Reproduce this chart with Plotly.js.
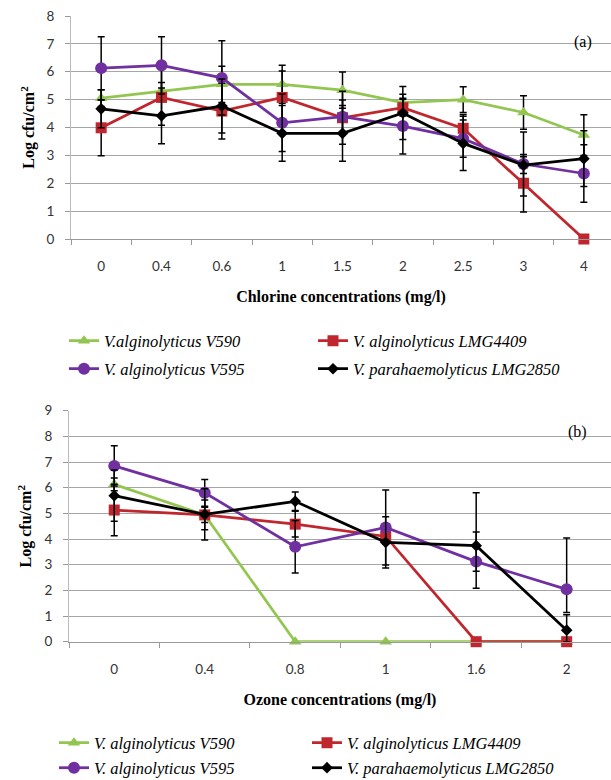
<!DOCTYPE html>
<html>
<head>
<meta charset="utf-8">
<script src="https://cdn.plot.ly/plotly-3.0.1.min.js"></script>
<style>html,body{margin:0;padding:0;background:#fff;}#chart{width:611px;height:780px;}</style>
</head>
<body>
<div id="chart"></div>
<script>
// ---- Chart (a): chlorine ----
const chlorineCats = ["0", "0.4", "0.6", "1", "1.5", "2", "2.5", "3", "4"];
const a_V590    = [5.05, 5.31, 5.55, 5.55, 5.34, 4.89, 5.00, 4.54, 3.73];
const a_LMG4409 = [3.99, 5.08, 4.59, 5.08, 4.35, 4.71, 3.97, 2.00, 0.00];
const a_V595    = [6.13, 6.23, 5.78, 4.17, 4.39, 4.05, 3.60, 2.69, 2.35];
const a_LMG2850 = [4.67, 4.42, 4.77, 3.79, 3.79, 4.52, 3.43, 2.65, 2.88];
const a_V590_err    = [0.30, 0.30, 0.65, 0.68, 0.65, 0.30, 0.46, 0.60, 0.73];
const a_LMG4409_err = [1.00, 1.00, 1.00, 0.95, 0.95, 0.30, 0.50, 1.03, 0.00];
const a_V595_err    = [1.13, 1.03, 1.33, 1.03, 0.60, 1.00, 0.67, 1.15, 1.03];
const a_LMG2850_err = [0.68, 1.00, 0.97, 1.00, 1.00, 0.95, 0.97, 0.30, 1.00];

// ---- Chart (b): ozone ----
const ozoneCats = ["0", "0.4", "0.8", "1", "1.6", "2"];
const b_V590    = [6.13, 4.94, 0.00, 0.00, 0.00, 0.00];
const b_LMG4409 = [5.13, 4.94, 4.58, 4.10, 0.00, 0.00];
const b_V595    = [6.85, 5.80, 3.70, 4.45, 3.12, 2.04];
const b_LMG2850 = [5.69, 4.96, 5.47, 3.87, 3.74, 0.45];
const b_V590_errPlus     = [0.25, 0.30, 0, 0, 0, 0];
const b_V590_errMinus    = [0.25, 0.30, 0, 0, 0, 0];
const b_LMG4409_errPlus  = [1.00, 0.58, 0.50, 0.30, 0, 0];
const b_LMG4409_errMinus = [1.00, 0.58, 0.50, 0.30, 0, 0];
const b_V595_errPlus     = [0.78, 0.52, 1.02, 1.46, 1.15, 2.00];
const b_V595_errMinus    = [0.78, 0.52, 1.02, 1.46, 1.04, 0.90];
const b_LMG2850_errPlus  = [1.00, 1.00, 0.36, 1.00, 2.06, 0.60];
const b_LMG2850_errMinus = [1.00, 1.00, 0.36, 1.00, 1.00, 0.45];

const namesA = ["V.alginolyticus V590", "V. alginolyticus LMG4409", "V. alginolyticus V595", "V. parahaemolyticus LMG2850"];
const namesB = ["V. alginolyticus V590", "V. alginolyticus LMG4409", "V. alginolyticus V595", "V. parahaemolyticus LMG2850"];

const COLORS = ["#92C650", "#C0262D", "#7030A0", "#000000"];
const SYMBOLS = ["triangle-up", "square", "circle", "diamond"];
const SIZES = [11, 11, 12, 9];

function errBar(plus, minus) {
  return {type: "data", array: plus, arrayminus: minus, symmetric: minus ? false : true,
          visible: true, color: "#000", thickness: 1.5, width: 3.5};
}
function mk(x, y, i, name, legend, xa, ya, err) {
  return {
    type: "scatter", mode: "lines+markers", x: x, y: y, name: name,
    legend: legend, xaxis: xa, yaxis: ya, cliponaxis: false,
    line: {color: COLORS[i], width: 2.75},
    marker: {color: COLORS[i], symbol: SYMBOLS[i], size: SIZES[i]},
    error_y: err
  };
}

const traces = [
  mk(chlorineCats, a_V590, 0, namesA[0], "legend", "x", "y", errBar(a_V590_err)),
  mk(chlorineCats, a_LMG4409, 1, namesA[1], "legend", "x", "y", errBar(a_LMG4409_err)),
  mk(chlorineCats, a_V595, 2, namesA[2], "legend2", "x", "y", errBar(a_V595_err)),
  mk(chlorineCats, a_LMG2850, 3, namesA[3], "legend2", "x", "y", errBar(a_LMG2850_err)),
  mk(ozoneCats, b_V590, 0, namesB[0], "legend3", "x2", "y2", errBar(b_V590_errPlus, b_V590_errMinus)),
  mk(ozoneCats, b_LMG4409, 1, namesB[1], "legend3", "x2", "y2", errBar(b_LMG4409_errPlus, b_LMG4409_errMinus)),
  mk(ozoneCats, b_V595, 2, namesB[2], "legend4", "x2", "y2", errBar(b_V595_errPlus, b_V595_errMinus)),
  mk(ozoneCats, b_LMG2850, 3, namesB[3], "legend4", "x2", "y2", errBar(b_LMG2850_errPlus, b_LMG2850_errMinus))
];

const W = 611, H = 780;
const tickFont = {family: "Lato, 'Liberation Sans', sans-serif", size: 13.5, color: "#333"};
const titleFont = {family: "'Liberation Serif', 'Times New Roman', serif", size: 16, color: "#000"};
const legFont = {family: "'Liberation Serif', 'Times New Roman', serif", size: 16.5, color: "#000", style: "italic"};

function xAxis(domL, rng, title, anchor) {
  return {
    domain: [domL / W, 1], anchor: anchor, type: "category", range: rng,
    tickson: "boundaries", ticks: "outside", ticklen: 5, tickcolor: "#999", tickwidth: 1,
    showline: true, linecolor: "#999", linewidth: 1, showgrid: false, zeroline: false,
    tickfont: tickFont, ticklabelstandoff: 15, fixedrange: true,
    title: {text: "<b>" + title + "</b>", font: titleFont, standoff: 17}
  };
}
function yAxis(top, bottom, maxV, anchor, st) {
  return {
    domain: [1 - bottom / H, 1 - top / H], anchor: anchor, range: [0, maxV], dtick: 1,
    ticks: "outside", ticklen: 5, tickcolor: "#999", showline: true, linecolor: "#bbb",
    showgrid: true, gridcolor: "#a6a6a6", gridwidth: 1, zeroline: false,
    tickfont: tickFont, ticklabelstandoff: 8, fixedrange: true,
    title: {text: "<b>Log cfu/cm<sup>2</sup></b>", font: titleFont, standoff: st}
  };
}
function legendAt(xpx, ypx, ew) {
  return {x: xpx / W, y: 1 - ypx / H, xanchor: "left", yanchor: "middle", orientation: "h",
          entrywidth: ew, entrywidthmode: "pixels", font: legFont, bgcolor: "rgba(0,0,0,0)",
          itemclick: false, itemdoubleclick: false};
}

const layout = {
  width: W, height: H, margin: {l: 0, r: 0, t: 0, b: 0, autoexpand: false},
  paper_bgcolor: "#fff", plot_bgcolor: "#fff", showlegend: true,
  xaxis: xAxis(71, [-0.5, 8.45], "Chlorine concentrations (mg/l)", "y"),
  yaxis: yAxis(16, 239, 8, "x", 7),
  xaxis2: xAxis(69, [-0.5, 5.49], "Ozone concentrations (mg/l)", "y2"),
  yaxis2: yAxis(410.7, 641.7, 9, "x2", 8),
  legend: legendAt(64, 341, 204),
  legend2: legendAt(64, 369, 204),
  legend3: legendAt(54, 743, 208),
  legend4: legendAt(54, 768, 208),
  annotations: [
    {text: "(a)", xref: "paper", yref: "paper", x: 583 / W, y: 1 - 42 / H, showarrow: false,
     xanchor: "center", yanchor: "middle",
     font: {family: "'Liberation Serif', serif", size: 16, color: "#000"}},
    {text: "(b)", xref: "paper", yref: "paper", x: 577 / W, y: 1 - 432 / H, showarrow: false,
     xanchor: "center", yanchor: "middle",
     font: {family: "'Liberation Serif', serif", size: 16, color: "#000"}}
  ]
};

Plotly.newPlot("chart", traces, layout, {displayModeBar: false, staticPlot: true});
</script>
</body>
</html>
